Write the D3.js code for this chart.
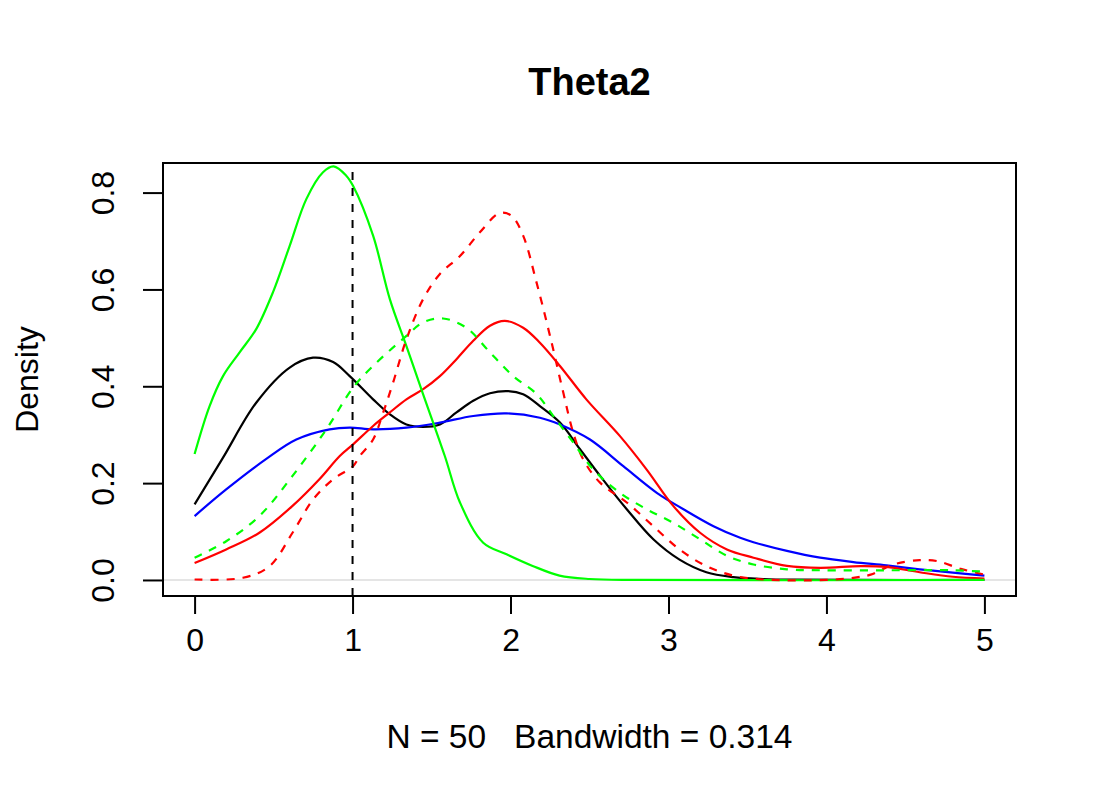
<!DOCTYPE html>
<html>
<head>
<meta charset="utf-8">
<script src="https://cdn.jsdelivr.net/npm/d3@7"></script>
<style>
  body { margin: 0; background: #fff; }
  text { font-family: "Liberation Sans", Arial, sans-serif; fill: #000; }
</style>
</head>
<body>
<div id="chart"></div>
<script>
// density estimates, [x, density]
const blackSolid = [[0,0.156],[0.18,0.2526],[0.39,0.366],[0.602,0.4386],[0.75,0.459],[0.877,0.450],[0.982,0.421],[1.13,0.373],[1.236,0.342],[1.341,0.321],[1.447,0.316],[1.553,0.321],[1.658,0.346],[1.764,0.370],[1.87,0.3855],[1.985,0.390],[2.08,0.3835],[2.186,0.359],[2.313,0.325],[2.44,0.27],[2.567,0.215],[2.736,0.146],[2.904,0.084],[3.07,0.042],[3.24,0.016],[3.41,0.006],[3.6,0.002],[3.8,0.0005],[4.2,0],[5,0]];
const blueSolid = [[0,0.132],[0.2,0.187],[0.454,0.25],[0.644,0.29],[0.855,0.311],[0.982,0.3146],[1.13,0.311],[1.341,0.3145],[1.553,0.325],[1.764,0.3386],[1.975,0.344],[2.186,0.335],[2.313,0.321],[2.503,0.29],[2.714,0.235],[2.926,0.18],[3.095,0.146],[3.285,0.111],[3.454,0.087],[3.538,0.078],[3.75,0.06],[3.96,0.046],[4.17,0.037],[4.38,0.030],[4.59,0.022],[4.8,0.015],[5,0.009]];
const redSolid = [[0,0.035],[0.2,0.063],[0.41,0.0975],[0.62,0.153],[0.79,0.208],[0.919,0.256],[1.003,0.280],[1.13,0.318],[1.236,0.346],[1.341,0.373],[1.447,0.394],[1.553,0.421],[1.658,0.456],[1.764,0.494],[1.87,0.525],[1.964,0.535],[2.08,0.521],[2.186,0.49],[2.313,0.442],[2.48,0.373],[2.693,0.297],[2.862,0.228],[3.03,0.153],[3.2,0.0975],[3.37,0.063],[3.538,0.046],[3.75,0.029],[3.96,0.025],[4.214,0.0286],[4.38,0.027],[4.59,0.016],[4.8,0.0066],[5,0.003]];
const greenSolid = [[0,0.26],[0.095,0.359],[0.18,0.421],[0.285,0.47],[0.39,0.518],[0.496,0.594],[0.602,0.69],[0.708,0.787],[0.813,0.842],[0.88,0.854],[0.96,0.835],[1.003,0.814],[1.13,0.711],[1.236,0.58],[1.341,0.483],[1.443,0.387],[1.584,0.256],[1.68,0.16],[1.827,0.077],[1.975,0.053],[2.14,0.029],[2.31,0.009],[2.5,0.002],[2.8,0],[5,0]];
const redDashed = [[0,0.001],[0.306,0.0045],[0.475,0.0286],[0.62,0.0975],[0.75,0.166],[0.877,0.208],[1.003,0.235],[1.046,0.256],[1.13,0.29],[1.194,0.346],[1.257,0.408],[1.341,0.497],[1.447,0.58],[1.553,0.632],[1.68,0.669],[1.806,0.718],[1.933,0.758],[2.007,0.752],[2.08,0.711],[2.165,0.614],[2.25,0.504],[2.334,0.387],[2.397,0.304],[2.46,0.249],[2.567,0.201],[2.736,0.16],[2.904,0.111],[3.07,0.063],[3.24,0.0286],[3.41,0.009],[3.6,0.001],[4.0,0.0],[4.17,0.0045],[4.28,0.011],[4.425,0.032],[4.59,0.041],[4.70,0.039],[4.85,0.023],[5,0.011]];
const greenDashed = [[0,0.046],[0.2,0.08],[0.41,0.132],[0.62,0.215],[0.834,0.311],[1.003,0.397],[1.13,0.442],[1.341,0.504],[1.447,0.532],[1.573,0.540],[1.72,0.521],[1.87,0.47],[2.017,0.421],[2.165,0.384],[2.27,0.339],[2.397,0.284],[2.524,0.228],[2.693,0.18],[2.862,0.146],[3.03,0.118],[3.2,0.084],[3.37,0.05],[3.538,0.032],[3.75,0.022],[3.96,0.02],[4.38,0.02],[4.8,0.02],[5,0.017]];

const series = [
  { data: blackSolid, color: "#000000", dash: null },
  { data: blueSolid, color: "#0000ff", dash: null },
  { data: redSolid, color: "#ff0000", dash: null },
  { data: greenSolid, color: "#00ff00", dash: null },
  { data: redDashed, color: "#ff0000", dash: "8,8" },
  { data: greenDashed, color: "#00ff00", dash: "8,8" }
];

const xTicks = [0, 1, 2, 3, 4, 5];
const yTicks = [0, 0.2, 0.4, 0.6, 0.8];
const xlim = [0, 5];
const ylim = [0, 0.828];
const refLine = 1;

const width = 1100, height = 800;
const box = { left: 163, right: 1016, top: 163, bottom: 596 };

// R style 4% axis expansion
const pad = (lim) => { const d = (lim[1] - lim[0]) * 0.04; return [lim[0] - d, lim[1] + d]; };

const x = d3.scaleLinear().domain(pad(xlim)).range([box.left, box.right]);
const y = d3.scaleLinear().domain(pad(ylim)).range([box.bottom, box.top]);

const svg = d3.select("#chart").append("svg")
    .attr("width", width)
    .attr("height", height);

svg.append("rect").attr("width", width).attr("height", height).attr("fill", "#fff");

// zero line
svg.append("line")
    .attr("x1", box.left).attr("x2", box.right)
    .attr("y1", y(0)).attr("y2", y(0))
    .attr("stroke", "#e5e5e5")
    .attr("stroke-width", 2);

const line = d3.line()
    .x(d => x(d[0]))
    .y(d => y(Math.max(0, d[1])))
    .curve(d3.curveCatmullRom.alpha(0.5));

svg.append("g")
    .attr("fill", "none")
    .selectAll("path")
    .data(series)
    .join("path")
    .attr("d", d => line(d.data))
    .attr("stroke", d => d.color)
    .attr("stroke-width", 2.2)
    .attr("stroke-dasharray", d => d.dash);

svg.append("line")
    .attr("x1", x(refLine)).attr("x2", x(refLine))
    .attr("y1", box.bottom).attr("y2", box.top)
    .attr("stroke", "#000")
    .attr("stroke-width", 2)
    .attr("stroke-dasharray", "8,8");

// plot box
svg.append("rect")
    .attr("x", box.left).attr("y", box.top)
    .attr("width", box.right - box.left)
    .attr("height", box.bottom - box.top)
    .attr("fill", "none")
    .attr("stroke", "#000")
    .attr("stroke-width", 2);

// x axis
const xAxis = svg.append("g").attr("transform", `translate(0,${box.bottom})`)
    .call(d3.axisBottom(x).tickValues(xTicks).tickSize(18).tickPadding(14).tickSizeOuter(0)
        .tickFormat(d3.format("d")));
xAxis.select(".domain")
    .attr("d", `M${x(xlim[0])},0H${x(xlim[1])}`)
    .attr("stroke-width", 2);
xAxis.selectAll(".tick line").attr("stroke-width", 2);
xAxis.selectAll(".tick text")
    .attr("font-size", 32)
    .attr("font-family", "Liberation Sans, Arial, sans-serif");

// y axis
const yAxis = svg.append("g").attr("transform", `translate(${box.left},0)`)
    .call(d3.axisLeft(y).tickValues(yTicks).tickSize(20).tickSizeOuter(0)
        .tickFormat(d3.format(".1f")));
yAxis.select(".domain")
    .attr("d", `M0,${y(ylim[0])}V${y(0.8)}`)
    .attr("stroke-width", 2);
yAxis.selectAll(".tick line").attr("stroke-width", 2);
yAxis.selectAll(".tick text")
    .attr("font-size", 32)
    .attr("font-family", "Liberation Sans, Arial, sans-serif")
    .attr("x", null).attr("dy", null)
    .attr("text-anchor", "middle")
    .attr("transform", "translate(-49,0) rotate(-90)");

svg.append("text")
    .attr("x", (box.left + box.right) / 2)
    .attr("y", 95)
    .attr("text-anchor", "middle")
    .attr("font-size", 38)
    .attr("font-weight", "bold")
    .text("Theta2");

svg.append("text")
    .attr("x", (box.left + box.right) / 2)
    .attr("y", 748)
    .attr("text-anchor", "middle")
    .attr("font-size", 33.5)
    .attr("xml:space", "preserve")
    .style("white-space", "pre")
    .text("N = 50   Bandwidth = 0.314");

svg.append("text")
    .attr("transform", `translate(38,${(box.top + box.bottom) / 2}) rotate(-90)`)
    .attr("text-anchor", "middle")
    .attr("font-size", 32)
    .text("Density");
</script>
</body>
</html>
